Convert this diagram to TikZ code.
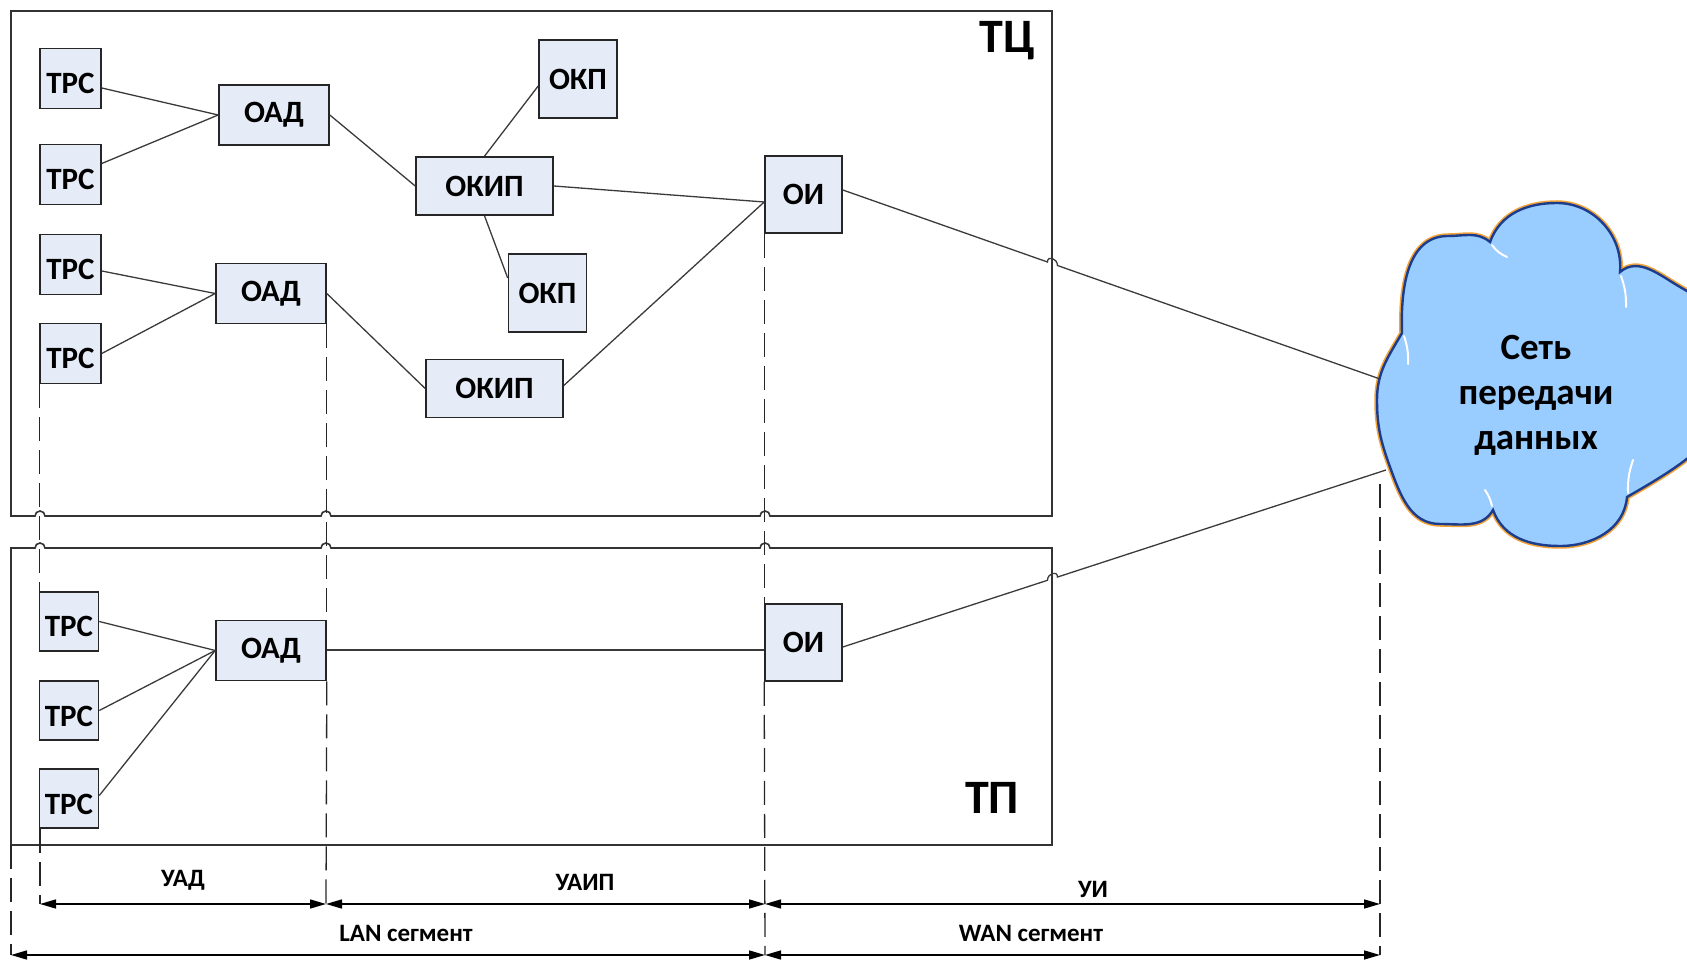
\documentclass[tikz,border=0pt]{standalone}
\usepackage{fontspec}
\setmainfont{Carlito}
\usetikzlibrary{arrows.meta,calc}
\definecolor{boxfill}{HTML}{E6ECF7}
\definecolor{cloudfill}{HTML}{99CCFF}
\definecolor{cloudline}{HTML}{1C3C8C}
\definecolor{cloudglow}{HTML}{F2A33A}
\definecolor{wire}{HTML}{3A3A3A}

\begin{document}
\begin{tikzpicture}[x=1pt,y=1pt,
  unit/.style={draw=black!85, line width=1.6pt, fill=boxfill, inner sep=0pt,
    font=\fontsize{31}{36}\selectfont\bfseries},
  trsbox/.style={unit, minimum width=61pt, minimum height=60pt,
    text height=31pt, text depth=0pt},
  oadbox/.style={unit, minimum width=110pt, minimum height=60pt},
  okpbox/.style={unit, minimum width=78pt, minimum height=78pt},
  okipbox/.style={unit, minimum width=137pt, minimum height=58pt},
  oibox/.style={unit, minimum width=77pt, minimum height=77pt},
  wirestyle/.style={draw=wire, line width=1.3pt},
  frame/.style={draw=black!80, line width=1.6pt},
  guide/.style={draw=black!85, line width=1.3pt, dash pattern=on 24pt off 9pt},
  span/.style={draw=black, line width=1.5pt,
    arrows={Triangle[length=16pt,width=9pt]-Triangle[length=16pt,width=9pt]}},
  spanlabel/.style={font=\fontsize{25}{30}\selectfont\bfseries},
  zone/.style={font=\fontsize{48}{56}\selectfont\bfseries},
  gleam/.style={draw=white, line width=2pt, line cap=round}
]
\useasboundingbox (0,0) rectangle (1687,962);

% ---------- frames with jumps over the guide lines ----------
\draw[frame] (11,446) -- (35,446) arc[start angle=180,end angle=0,radius=5]
  -- (321,446) arc[start angle=180,end angle=0,radius=5]
  -- (760,446) arc[start angle=180,end angle=0,radius=5]
  -- (1052,446) -- (1052,951) -- (11,951) -- cycle;
\draw[frame] (11,414) -- (35,414) arc[start angle=180,end angle=0,radius=5]
  -- (321,414) arc[start angle=180,end angle=0,radius=5]
  -- (760,414) arc[start angle=180,end angle=0,radius=5]
  -- (1052,414) -- (1052,117) -- (11,117) -- cycle;

\node[zone] (tc) at (1007,921) {ТЦ};
\node[zone] (tp) at (992,164) {ТП};

% ---------- cloud ----------
\draw[fill=cloudfill, draw=cloudline, line width=2.4pt,
      preaction={draw=cloudglow, line width=5.5pt}]
  (1402,629) to[out=92,in=180] (1448,726) to[out=0,in=140] (1490,720)
  to[out=70,in=180] (1557,759) to[out=0,in=85] (1620,690)
  to[out=40,in=150] (1680,675) to[out=-30,in=90] (1740,600)
  to[out=-90,in=30] (1627,465) to[out=-95,in=0] (1560,416)
  to[out=180,in=-70] (1493,452) to[out=-120,in=0] (1440,438)
  to[out=180,in=-70] (1390,495) to[out=110,in=-90] (1377,562)
  to[out=90,in=-120] (1402,629) -- cycle;
\draw[gleam] (1492,717) to[bend right=15] (1507,705);
\draw[gleam] (1621,686) to[bend left=10] (1626,655);
\draw[gleam] (1404,626) to[bend left=10] (1408,598);
\draw[gleam] (1492,456) to[bend right=10] (1485,472);
\draw[gleam] (1628,469) to[bend left=10] (1633,502);
\node[font=\fontsize{37}{45}\selectfont\bfseries, align=center] (net) at (1536,567)
  {Сеть\\передачи\\данных};
\coordinate (c1) at (1380,583);
\coordinate (c2) at (1386,492);
\coordinate (cb) at (1380,478);

% ---------- nodes ----------
\node[trsbox] (trs1) at (70.5,883.5) {ТРС};
\node[trsbox] (trs2) at (70.5,787.5) {ТРС};
\node[trsbox] (trs3) at (70.5,697.5) {ТРС};
\node[trsbox] (trs4) at (70.5,608.5) {ТРС};
\node[oadbox] (oad1) at (274,847) {ОАД};
\node[oadbox] (oad2) at (271,668.5) {ОАД};
\node[okpbox] (okp1) at (578,883) {ОКП};
\node[okipbox] (okip1) at (484.5,776) {ОКИП};
\node[okpbox] (okp2) at (547.5,669) {ОКП};
\node[okipbox] (okip2) at (494.5,573.5) {ОКИП};
\node[oibox] (oi1) at (803.5,767.5) {ОИ};

\node[trsbox, minimum width=59pt, minimum height=59pt] (trs5) at (69,340.5) {ТРС};
\node[trsbox, minimum width=59pt, minimum height=59pt] (trs6) at (69,251.5) {ТРС};
\node[trsbox, minimum width=59pt, minimum height=59pt] (trs7) at (69,163.5) {ТРС};
\node[oadbox] (oad3) at (271,311.5) {ОАД};
\node[oibox] (oi2) at (803.5,319.5) {ОИ};

% ---------- connectors ----------
\draw[wirestyle] ([yshift=-9.5pt]trs1.east) -- (oad1.west);
\draw[wirestyle] ([yshift=11pt]trs2.east) -- (oad1.west);
\draw[wirestyle] ([yshift=-6.5pt]trs3.east) -- (oad2.west);
\draw[wirestyle] (trs4.east) -- (oad2.west);
\draw[wirestyle] (oad1.east) -- (okip1.west);
\draw[wirestyle] (oad2.east) -- (okip2.west);
\draw[wirestyle] (okip1.north) -- ([yshift=-7pt]okp1.west);
\draw[wirestyle] (okip1.south) -- ([yshift=15pt]okp2.west);
\draw[wirestyle] (okip1.east) -- ([yshift=-7.5pt]oi1.west);
\draw[wirestyle] ([yshift=3pt]okip2.east) -- ([yshift=-7.5pt]oi1.west);

\draw[wirestyle] (trs5.east) -- (oad3.west);
\draw[wirestyle] (trs6.east) -- (oad3.west);
\draw[wirestyle] ([yshift=3pt]trs7.east) -- (oad3.west);
\draw[wirestyle] ([yshift=-7.5pt]oi2.west -| oad3.east) -- ([yshift=-7.5pt]oi2.west);

% links to the data network, jumping over the frame edges
\coordinate (s1) at ([yshift=4.5pt]oi1.east);
\coordinate (j1a) at ($(s1)!0.381!(c1)$);
\coordinate (j1b) at ($(s1)!0.3996!(c1)$);
\draw[wirestyle] (s1) -- (j1a) .. controls ($(j1a)+(0,7)$) and ($(j1b)+(0,7)$) .. (j1b) -- (c1);
\coordinate (s2) at ([yshift=-4.5pt]oi2.east);
\coordinate (j2a) at ($(s2)!0.3768!(c2)$);
\coordinate (j2b) at ($(s2)!0.3952!(c2)$);
\draw[wirestyle] (s2) -- (j2a) .. controls ($(j2a)+(0,7)$) and ($(j2b)+(0,7)$) .. (j2b) -- (c2);

% ---------- segment boundaries ----------
\coordinate (uadL) at (40,58);
\coordinate (uadR) at (326,58);
\coordinate (midT) at (765,58);
\coordinate (uiR) at (1380,58);
\coordinate (lanL) at (11,7);
\coordinate (midB) at (765,7);
\coordinate (wanR) at (1380,7);

\draw[guide] (trs4.south west) -- (trs4.south west |- trs5.north);
\draw[guide] (uadL |- trs7.south) -- (uadL);
\draw[guide] (oad2.south east) -- (oad2.south east |- oad3.north);
\draw[guide] (oad3.south east) -- (uadR);
\draw[guide] (oi1.south west) -- (oi1.south west |- oi2.north);
\draw[guide] (oi2.south west) -- (midB);
\draw[guide] (lanL |- 0,117) -- (lanL);
\draw[guide] (cb) -- (wanR);

\draw[span] (uadL) -- (uadR);
\draw[span] (uadR) -- (midT);
\draw[span] (midT) -- (uiR);
\draw[span] (lanL) -- (midB);
\draw[span] (midB) -- (wanR);

\node[spanlabel] (luad) at (183,82) {УАД};
\node[spanlabel] (luaip) at (585,80) {УАИП};
\node[spanlabel] (lui) at (1093,73) {УИ};
\node[spanlabel] (llan) at (406,29) {LAN сегмент};
\node[spanlabel] (lwan) at (1031,29) {WAN сегмент};
\end{tikzpicture}
\end{document}
